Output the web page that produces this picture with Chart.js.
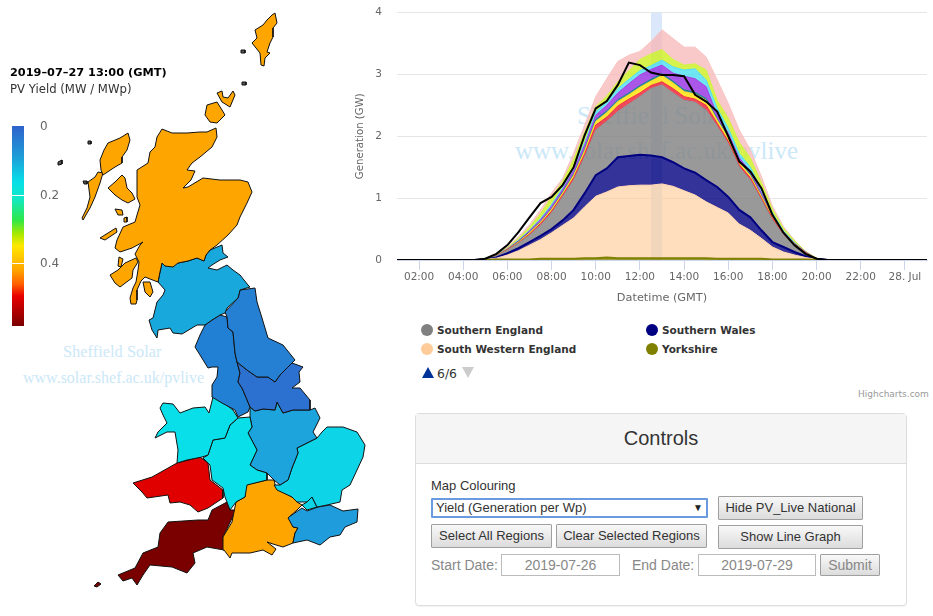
<!DOCTYPE html>
<html><head><meta charset="utf-8">
<script src="https://cdn.jsdelivr.net/npm/chart.js@4"></script>
<style>
html,body{margin:0;padding:0;background:#fff;width:933px;height:616px;overflow:hidden}
#page{position:relative;width:933px;height:616px;font-family:"DejaVu Sans",sans-serif}
#page>*{position:absolute}
canvas{position:absolute}
.wm{font-family:"Liberation Serif",serif;color:#cbe8f8;white-space:nowrap}
.leg{font:bold 10.5px "DejaVu Sans",sans-serif;color:#333;white-space:nowrap;line-height:14px}
.dot{width:12px;height:12px;border-radius:50%}
.ctl{font-family:"Liberation Sans",sans-serif;font-size:14px;white-space:nowrap;box-sizing:border-box}
.t13{font-size:13px}
.btn{background:linear-gradient(#f8f8f8,#dcdcdc);border:1px solid #a0a0a0;color:#333;text-align:center;line-height:21px;border-radius:1px}
.inp{border:1px solid #bbb;color:#888;text-align:center;line-height:20px}
.lab{color:#888;line-height:20px}
.cb{font-size:12px;color:#666;white-space:nowrap;line-height:14px}
</style></head><body>
<div id="page">
<div class="wm" style="left:63px;top:342px;font-size:16.4px">Sheffield Solar</div>
<div class="wm" style="left:23px;top:369px;font-size:16px">www.solar.shef.ac.uk/pvlive</div>
<div class="wm" style="left:577px;top:102px;font-size:25px">Sheffield Solar</div>
<div class="wm" style="left:515px;top:137px;font-size:25px">www.solar.shef.ac.uk/pvlive</div>
<canvas id="map" width="390" height="616" style="left:0;top:0"></canvas>
<canvas id="gen" width="593" height="305" style="left:340px;top:0"></canvas>

<div style="left:10px;top:66px;font:bold 11.3px 'DejaVu Sans';color:#000;white-space:nowrap">2019–07–27 13:00 (GMT)</div>
<div style="left:10px;top:82px;font:11.7px 'DejaVu Sans';color:#333;white-space:nowrap">PV Yield (MW / MWp)</div>
<div id="bar" style="left:12px;top:126px;width:12px;height:200px;background:linear-gradient(#2f62cc 0%,#1f9bd8 15%,#08dfe8 28%,#10e8c8 36%,#2ee84a 47%,#a8e800 54%,#ffe800 60%,#ffa500 72%,#ff6000 79%,#e80000 85%,#7a0000 100%)"></div>
<div style="left:12px;top:195px;width:12px;height:1px;background:#fff"></div>
<div style="left:12px;top:263px;width:12px;height:1px;background:#fff"></div>
<div class="cb" style="left:40px;top:119px">0</div>
<div class="cb" style="left:40px;top:188px">0.2</div>
<div class="cb" style="left:40px;top:256px">0.4</div>

<div id="legend"></div>
<div style="left:422px;top:367px;width:0;height:0;border-left:6px solid transparent;border-right:6px solid transparent;border-bottom:11px solid #003399"></div>
<div style="left:437px;top:366px;font:12.4px 'DejaVu Sans';color:#333">6/6</div>
<div style="left:462px;top:367px;width:0;height:0;border-left:6px solid transparent;border-right:6px solid transparent;border-top:11px solid #cccccc"></div>
<div style="left:858px;top:389px;font:9px 'DejaVu Sans';color:#999;white-space:nowrap">Highcharts.com</div>

<div style="left:415px;top:413px;width:492px;height:193px;box-sizing:border-box;border:1px solid #ddd;border-radius:4px;box-shadow:0 1px 1px rgba(0,0,0,.05)">
  <div style="height:49px;background:#f5f5f5;border-bottom:1px solid #ddd;text-align:center;font:20px/49px 'Liberation Sans';color:#333">Controls</div>
</div>
<div class="ctl t13" style="left:431px;top:478px;color:#333;line-height:16px">Map Colouring</div>
<div class="ctl t13" style="left:431px;top:498px;width:277px;height:20px;border:2px solid #6a9ae0;border-radius:1px;color:#333;padding-left:3px;line-height:16px;outline:0">Yield (Generation per Wp)</div>
<div class="ctl" style="left:693px;top:501px;font-size:10px;color:#222;line-height:13px">▼</div>
<div class="ctl btn t13" style="left:718px;top:496px;width:145px;height:24px">Hide PV_Live National</div>
<div class="ctl btn t13" style="left:431px;top:524px;width:121px;height:24px">Select All Regions</div>
<div class="ctl btn t13" style="left:556px;top:524px;width:151px;height:24px">Clear Selected Regions</div>
<div class="ctl btn t13" style="left:718px;top:525px;width:145px;height:24px">Show Line Graph</div>
<div class="ctl lab" style="left:431px;top:555px">Start Date:</div>
<div class="ctl inp" style="left:501px;top:554px;width:119px;height:22px">2019-07-26</div>
<div class="ctl lab" style="left:632px;top:555px">End Date:</div>
<div class="ctl inp" style="left:698px;top:554px;width:118px;height:22px">2019-07-29</div>
<div class="ctl btn" style="left:820px;top:554px;width:60px;height:22px;color:#888;line-height:20px">Submit</div>
</div>
<script>
// ---------- generation chart data (GW, half-hourly, hours from 00:00 on 27 Jul) ----------
const times = [1,4.5,5,5.5,6,6.5,7,7.5,8,8.5,9,9.5,10,10.5,11,11.5,12,12.5,13,13.5,14,14.5,15,15.5,16,16.5,17,17.5,18,18.5,19,19.5,20,20.5,21,25];
const tickHours = [2,4,6,8,10,12,14,16,18,20,22,24];
const tickNames = ['02:00','04:00','06:00','08:00','10:00','12:00','14:00','16:00','18:00','20:00','22:00','28. Jul'];
const yTicks = [0,1,2,3,4];
const selectedPeriod = [12.5,13];
const national =      [0,0,.02,.10,.24,.45,.69,.92,1.02,1.21,1.50,2.02,2.45,2.57,2.83,3.19,3.15,3.03,2.99,2.99,2.97,2.67,2.56,2.40,2.00,1.59,1.43,1.16,.73,.44,.24,.10,.02,0,0,0];
const yorkshire =     [0,0,0,.01,.01,.01,.01,.02,.02,.02,.02,.03,.03,.04,.03,.03,.03,.03,.03,.03,.03,.03,.03,.02,.02,.02,.02,.02,.01,.01,.01,.01,0,0,0,0];
const southWestern =  [0,0,.01,.02,.07,.14,.23,.31,.42,.54,.66,.83,1.00,1.06,1.15,1.17,1.18,1.18,1.20,1.16,1.09,1.02,.91,.83,.74,.56,.46,.33,.20,.12,.07,.03,.01,0,0,0];
const southernWales = [0,0,0,.01,.03,.04,.05,.06,.06,.08,.13,.22,.34,.38,.48,.48,.49,.48,.43,.39,.36,.36,.35,.33,.26,.23,.21,.13,.08,.08,.05,.02,.01,0,0,0];
const southernEngland=[0,0,.01,.03,.05,.08,.11,.17,.26,.38,.48,.59,.73,.76,.74,.84,.94,1.08,1.17,1.12,1.10,1.14,1.13,.98,.86,.69,.60,.49,.36,.19,.11,.05,0,0,0,0];
const southEastern =  [0,0,0,0,.01,.01,.02,.03,.03,.03,.04,.05,.08,.07,.09,.08,.06,.05,.05,.07,.06,.05,.08,.05,.04,.04,.04,.03,.03,.02,.01,.01,0,0,0,0];
const westMidlands =  [0,0,0,.01,0,.01,.02,.02,.03,.03,.04,.05,.06,.07,.07,.07,.09,.07,.10,.09,.08,.08,.08,.05,.05,.04,.03,.03,.02,.01,.01,0,0,0,0,0];
const merseyside =    [0,0,0,0,0,.01,.01,.01,.01,.02,.02,.02,.03,.03,.03,.03,.03,.03,.03,.03,.03,.03,.03,.02,.02,.02,.02,.01,.01,.01,0,0,0,0,0,0];
const eastMidlands =  [0,0,0,0,.01,.01,.02,.03,.04,.04,.06,.07,.07,.09,.11,.15,.17,.16,.14,.13,.22,.22,.19,.06,.06,.05,.05,.04,.02,.01,.01,.01,0,0,0,0];
const northWales =    [0,0,.01,.01,0,.01,.01,.02,.03,.03,.04,.04,.06,.05,.07,.07,.07,.06,.08,.10,.10,.16,.11,.11,.08,.07,.07,.06,.03,.02,.01,0,0,0,0,0];
const london =        [0,0,0,0,.02,.03,.05,.08,.12,.10,.14,.17,.08,.10,.11,.14,.18,.19,.17,.12,.08,.08,.16,.13,.16,.18,.15,.11,.06,.04,.03,.01,.01,0,0,0];
const easternEngland= [0,0,0,.01,.01,.03,.04,.06,.06,.05,.10,.11,.16,.28,.33,.25,.13,.20,.32,.34,.29,.27,.21,.33,.24,.20,.13,.10,.05,.03,.01,0,0,0,0,0];

const legendNames = ['Southern England','South Western England','Southern Wales','Yorkshire'];
const legendColours = ['#808080','#ffcc99','#000080','#808000'];

// ---------- map outlines: each list is x,y pairs on the map's own grid ----------
const shetland = [275,13,277,23,273,28,273,37,270,43,267,52,270,53,265,58,264,66,261,65,260,53,252,43,257,38,255,30,263,25,267,20,272,15];
const orkneyMain = [207,105,217,102,222,110,225,115,217,123,210,122,205,115];
const orkneyNorth = [217,93,222,91,223,97,228,98,233,91,235,95,230,107,222,102];
const scotlandNorth = [162,129,172,133,187,133,200,132,207,132,216,128,217,137,212,147,200,157,192,163,187,170,195,171,191,180,183,188,188,187,203,178,220,180,240,180,248,182,252,192,247,203,240,217,237,225,228,235,217,245,210,250,206,255,204,261,197,258,188,261,178,263,173,267,165,266,162,263,160,272,158,282,150,279,145,277,141,281,137,290,137,300,136,304,131,304,130,298,133,288,136,282,138,270,139,262,135,254,140,245,143,242,132,248,120,252,115,248,117,240,123,227,135,222,137,215,140,205,137,197,137,170,148,163,150,152,155,147,157,137];
const skye = [108,188,115,182,122,175,125,178,127,188,132,193,135,199,128,203,122,200,115,195];
const mull = [110,275,118,270,125,263,136,258,138,262,133,270,132,278,120,287,115,283];
const rum = [115,209,122,210,123,215,118,215];
const eigg = [124,218,127,217,127,222,124,222];
const tiree = [100,238,116,228,117,232,105,240];
const jura = [119,257,123,259,121,267,118,266];
const lewis = [128,133,130,140,127,150,122,157,122,163,115,167,103,175,101,170,100,160,104,150,108,143,120,138];
const uist = [103,173,100,183,95,197,90,208,83,220,82,218,87,208,90,197,88,182,95,177,98,172];
const arran = [143,282,150,282,153,292,150,297,145,292];
const stKilda = [58,162,62,160,62,164,59,165];
const flannan = [88,141,91,141,91,144,88,144];
const barra = [83,181,87,181,87,184,84,184];
const fairIsle = [242,82,246,82,246,85,242,85];
const foula = [241,50,245,50,245,53,241,53];
const scotlandSouth = [162,263,165,266,178,263,188,261,197,258,204,261,206,255,210,250,222,245,223,253,228,257,220,260,212,265,208,268,217,270,227,265,233,270,240,275,248,285,250,287,240,290,238,298,227,308,225,313,220,315,212,320,205,325,197,325,192,328,182,334,173,333,170,328,158,330,157,338,152,330,149,320,153,318,157,302,163,295,165,290,158,282,160,272];
const northEast = [240,290,255,288,257,302,262,318,268,338,283,345,295,360,292,363,287,368,280,375,275,382,268,377,257,377,247,370,237,362,235,353,233,332,228,328,227,317,225,312,238,298];
const yorkshireMap = [237,362,247,370,257,377,268,377,275,382,280,375,287,368,292,363,303,367,299,372,300,382,292,388,300,388,310,400,310,410,293,410,283,413,277,402,275,410,263,409,255,411,250,407,245,395,242,388,238,382,240,373];
const northWest = [227,317,228,328,233,332,235,353,237,362,240,373,238,382,242,388,245,395,250,407,248,412,238,417,235,410,222,403,212,397,212,385,217,377,218,367,212,367,208,368,200,355,195,347,200,335,205,325,212,320,220,315];
const walesNorth = [160,408,163,403,173,404,180,413,193,408,205,407,209,413,213,397,220,400,233,410,238,418,230,425,225,438,213,440,208,455,202,457,187,460,177,463,178,450,175,432,167,432,155,438,158,432,167,423,163,415];
const midlandsWest = [238,418,250,417,252,427,248,433,257,450,250,465,257,470,267,473,267,480,247,485,245,497,236,502,230,510,225,497,223,488,212,480,210,465,203,458,208,455,213,440,225,438,230,425];
const midlandsEast = [250,417,250,407,255,411,263,409,275,410,277,402,283,413,293,410,310,410,315,408,320,418,313,432,317,438,307,443,297,448,298,453,292,468,288,480,280,485,274,480,267,473,257,470,250,465,257,450,248,433,252,427];
const east = [317,438,322,432,327,427,343,427,357,432,365,445,363,457,357,470,350,485,342,490,340,502,327,505,317,507,312,497,307,502,297,502,292,497,277,490,274,485,280,485,288,480,292,468,298,453,297,448,307,443];
const thames = [302,505,307,502,312,497,317,507,307,510];
const southEast = [289,517,302,508,307,511,318,507,330,505,343,511,358,509,357,522,345,527,340,535,330,537,320,545,307,540,293,543,295,533,298,528,293,527,288,518];
const south = [245,485,267,480,274,480,276,488,292,497,297,502,302,505,297,510,289,517,293,527,298,528,295,533,293,543,283,547,273,544,267,542,276,549,272,555,263,550,250,553,232,553,230,558,224,550,223,537,232,522,236,502,245,497];
const southWest = [227,502,230,510,236,510,223,537,224,550,207,547,193,553,195,563,187,573,172,567,150,565,143,575,137,585,132,578,123,581,118,575,135,568,143,553,158,547,160,533,168,522,198,520,208,520,212,510];
const scilly = [94,586,98,582,101,584,97,587];
const walesSouth = [133,483,152,477,177,463,200,457,208,463,210,480,223,490,223,498,208,508,198,512,190,505,180,502,170,503,168,495,147,498,142,492];

const regionFills = [
 [shetland,'#ffa500'],[orkneyMain,'#ffa500'],[orkneyNorth,'#ffa500'],[scotlandNorth,'#ffa500'],[skye,'#ffa500'],[mull,'#ffa500'],[rum,'#ffa500'],[eigg,'#ffa500'],[tiree,'#ffa500'],[jura,'#ffa500'],[lewis,'#ffa500'],[uist,'#ffa500'],[arran,'#ffa500'],
 [stKilda,'#555'],[flannan,'#555'],[barra,'#555'],[fairIsle,'#555'],[foula,'#555'],
 [scotlandSouth,'#19a8dc'],[northEast,'#2580d4'],[yorkshireMap,'#2c70d0'],[northWest,'#2280d4'],
 [walesNorth,'#08dfe8'],[midlandsWest,'#08dfe8'],[midlandsEast,'#1ea4dc'],[east,'#0ed4e8'],[thames,'#0ed4e8'],[southEast,'#1f9cdc'],
 [south,'#ffa500'],[southWest,'#7a0000'],[scilly,'#7a0000'],[walesSouth,'#e00000']
];

// ---------- drawing ----------
Chart.defaults.animation = false;
Chart.defaults.font.family = '"DejaVu Sans",sans-serif';
const xy = a => { const p=[]; for(let i=0;i<a.length;i+=2) p.push({x:a[i],y:a[i+1]}); p.push({x:a[0],y:a[1]}); return p; };

new Chart(document.getElementById('map'),{
  type:'scatter',
  data:{datasets:regionFills.map(([poly,col])=>({data:xy(poly),showLine:true,fill:'shape',backgroundColor:col,borderColor:'#111',borderWidth:1,pointRadius:0,tension:0,clip:false}))},
  options:{responsive:false,layout:{padding:0},plugins:{legend:{display:false},tooltip:{enabled:false}},
    scales:{x:{type:'linear',min:0,max:390,display:false},y:{type:'linear',min:0,max:616,reverse:true,display:false}}}
});

const series = (name,vals,border,fillc,fill,w)=>({label:name,data:times.map((t,i)=>({x:t,y:vals[i]})),borderColor:border,backgroundColor:fillc,fill,borderWidth:w,pointRadius:0,tension:0,stack:'regions'});
const bandPlugin = {id:'band',beforeDatasetsDraw(c){const {ctx,chartArea:a,scales:{x}}=c;ctx.save();ctx.fillStyle='#dbe7fb';
  const l=x.getPixelForValue(selectedPeriod[0]),r=x.getPixelForValue(selectedPeriod[1]);ctx.fillRect(l,a.top,r-l,a.bottom-a.top);ctx.restore();}};

new Chart(document.getElementById('gen'),{
  type:'line',
  data:{datasets:[
    Object.assign(series('PV_Live National',national,'#000','transparent',false,2),{stack:'nat'}),
    series('Yorkshire',yorkshire,'#808000','rgba(128,128,0,.75)','origin',2),
    series('South Western England',southWestern,'#ffd5b0','rgba(255,204,153,.65)','-1',1),
    series('Southern Wales',southernWales,'#000080','rgba(0,0,128,.8)','-1',2),
    series('Southern England',southernEngland,'#909090','rgba(128,128,128,.8)','-1',1),
    series('South Eastern England',southEastern,'#ee3040','rgba(235,30,50,.8)','-1',1),
    series('West Midlands',westMidlands,'#ffe020','rgba(255,225,0,.8)','-1',1),
    series('Merseyside',merseyside,'#1f7f8f','rgba(0,110,125,.75)','-1',1),
    series('East Midlands',eastMidlands,'#a040e0','rgba(140,30,225,.75)','-1',1),
    series('North Wales',northWales,'#50dff2','rgba(64,220,240,.75)','-1',1),
    series('London',london,'#d0f040','rgba(205,240,30,.8)','-1',1),
    series('Eastern England',easternEngland,'#f8c4c4','rgba(247,182,182,.75)','-1',1)
  ]},
  plugins:[bandPlugin],
  options:{responsive:false,layout:{padding:{top:12.5,right:6,left:0,bottom:0}},
    plugins:{legend:{display:false},tooltip:{enabled:false}},
    scales:{
      x:{type:'linear',min:1,max:25,
        afterBuildTicks(s){s.ticks=tickHours.map(v=>({value:v}));},
        afterFit(s){s.height=45;s.paddingLeft=0;s.paddingRight=0;},
        border:{color:'#ccd6eb'},
        grid:{display:true,drawOnChartArea:false,drawTicks:true,tickLength:10,color:'#ccd6eb'},
        ticks:{autoSkip:false,maxRotation:0,padding:1,color:'#666',font:{size:10.5},callback:v=>tickNames[tickHours.indexOf(v)]},
        title:{display:true,text:'Datetime (GMT)',color:'#666',font:{size:11.3},padding:{top:1,bottom:0}}},
      y:{type:'linear',min:0,max:4,stacked:true,
        afterBuildTicks(s){s.ticks=yTicks.map(v=>({value:v}));},
        afterFit(s){s.width=57;s.paddingTop=0;s.paddingBottom=0;},
        border:{display:false},
        grid:{color:'#e6e6e6',drawTicks:false},
        ticks:{padding:15,color:'#666',font:{size:10.5}},
        title:{display:true,text:'Generation (GW)',color:'#666',font:{size:10.2},padding:{top:14,bottom:0}}}
    }}
});

// legend
const lg=document.getElementById('legend');
const legendSpots=[[421,437,323],[421,437,342],[646,662,323],[646,662,342]];
legendNames.forEach((n,i)=>{
  const [dx,tx,ty]=legendSpots[i];
  lg.insertAdjacentHTML('beforeend',`<div class="dot" style="position:absolute;left:${dx}px;top:${ty+1}px;background:${legendColours[i]}"></div><div class="leg" style="position:absolute;left:${tx}px;top:${ty}px">${n}</div>`);
});
</script>
</body></html>
